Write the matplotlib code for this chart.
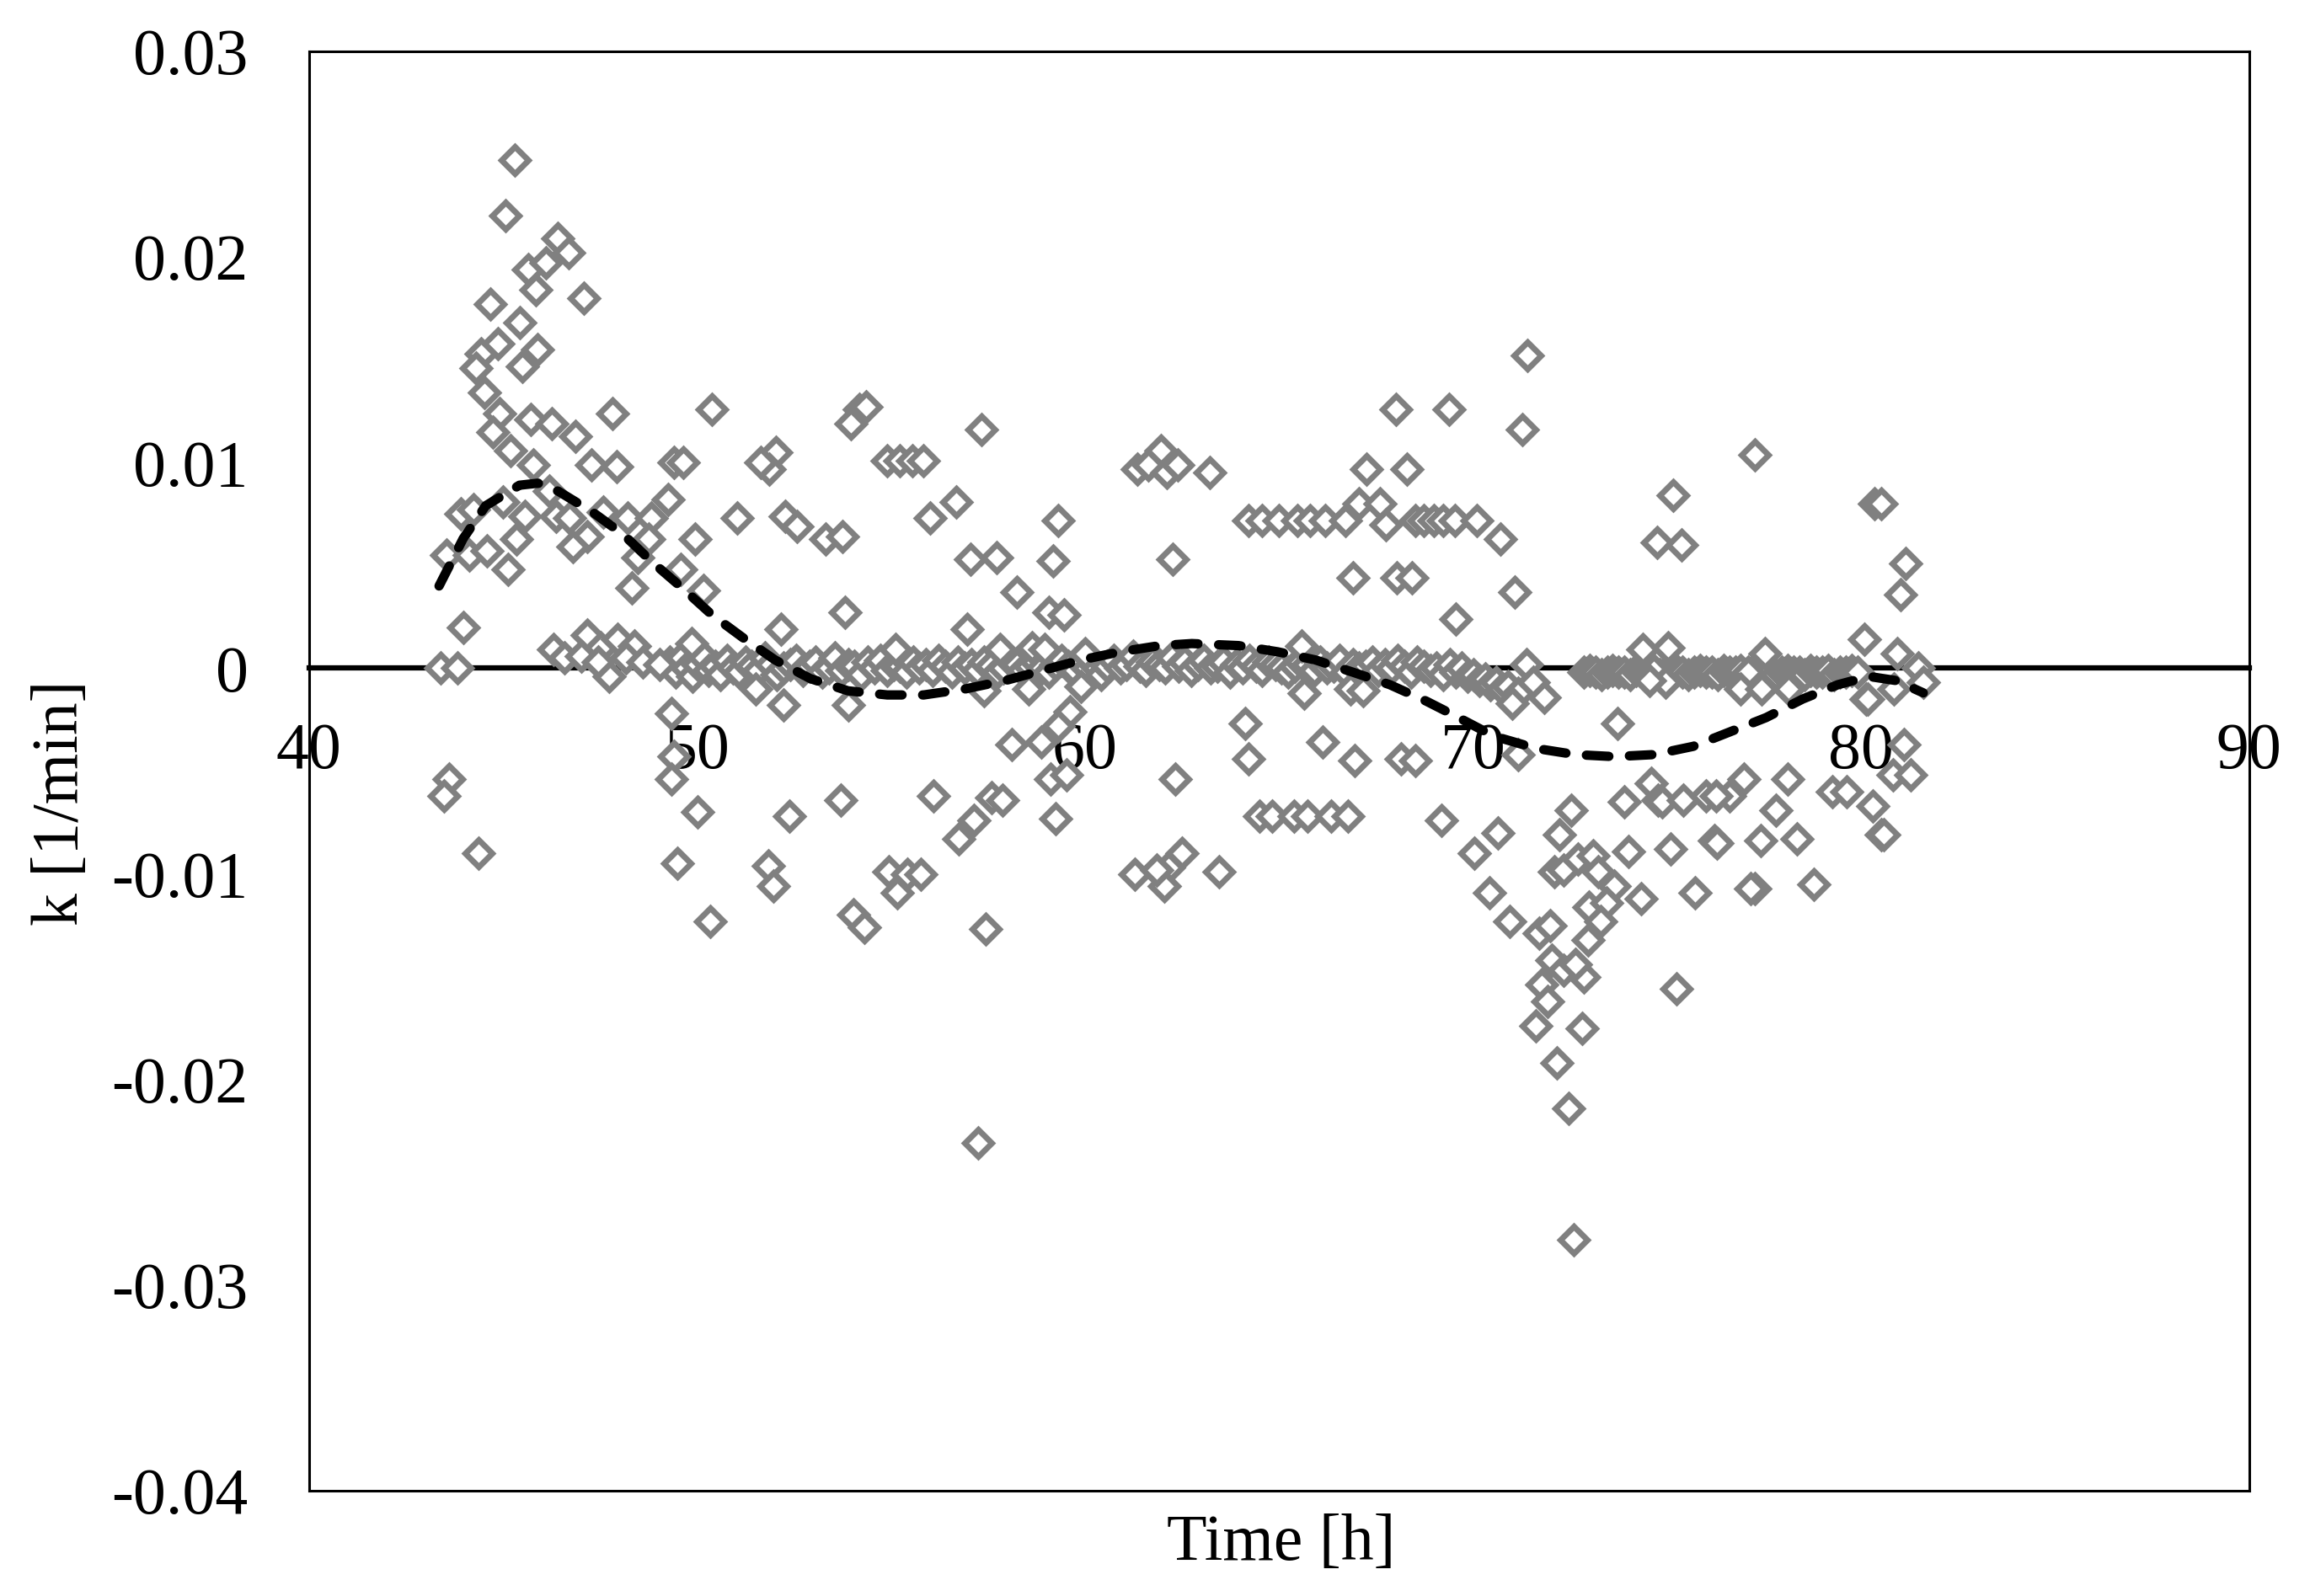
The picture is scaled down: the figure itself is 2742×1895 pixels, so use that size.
import matplotlib
matplotlib.use("Agg")
import matplotlib.pyplot as plt

plt.rcParams['font.family'] = ['Liberation Serif', 'DejaVu Serif']
plt.rcParams['axes.unicode_minus'] = False

# scattered k values [1/min] against time [h]
time_h = [
    45.29, 45.07, 46.40, 46.69, 45.64, 46.11, 45.84, 47.08, 44.66, 45.42,
    44.86, 45.89, 45.49, 44.44, 44.30, 44.52, 44.91, 45.71, 46.25, 46.87,
    47.81, 44.73, 45.20, 45.78, 47.27, 47.92, 43.90, 44.23, 44.99, 45.56,
    46.18, 46.36, 46.72, 47.59, 48.21, 48.82, 49.25, 43.54, 44.12, 44.59,
    45.35, 47.16, 46.79, 45.13, 48.46, 48.75, 48.31, 43.97, 43.39, 43.83,
    46.29, 46.58, 47.16, 47.01, 47.52, 47.95, 48.39, 47.74, 47.45, 48.17,
    48.60, 49.04,
    43.61, 43.47, 44.37,
    50.38, 54.18, 54.36, 53.96, 49.40, 49.65, 52.04, 51.86, 51.64, 54.90,
    55.23, 55.55, 55.84, 51.03, 52.26, 52.58, 53.31, 53.74, 56.00, 49.94,
    49.58, 50.16, 53.81, 52.15, 49.87, 55.12,
    49.33, 51.50, 52.22, 53.89, 49.40, 49.33, 50.02, 52.37, 53.71, 56.10,
    49.50, 51.83, 51.97, 50.34, 54.94, 55.41, 55.77, 55.15, 54.03, 54.32,
    57.33, 56.67, 59.31, 57.04, 57.72, 59.17, 62.25, 61.96, 61.34, 61.63,
    62.10, 62.39, 58.23, 59.06, 59.46, 56.96, 57.80, 58.63, 58.95, 60.00,
    57.40, 59.90,
    58.55, 59.60, 59.31, 58.12, 58.88, 59.10, 59.53, 59.24, 57.58, 57.87,
    57.14, 56.75, 62.32, 61.27, 62.14, 62.50, 62.03, 61.85, 57.43, 57.25,
    68.00, 69.37, 63.22, 67.24, 68.29, 64.20, 64.56, 65.00, 65.47, 65.79,
    66.19, 66.70, 67.06, 67.60, 67.75, 68.50, 68.72, 68.98, 69.23, 69.52,
    66.91, 68.03, 68.43, 69.55, 65.57, 66.84, 67.17,
    65.65, 64.13, 66.12, 66.95, 68.14, 68.51, 64.20, 64.49, 64.81, 65.39,
    65.72, 66.33, 66.77, 69.19, 63.44,
    71.40, 71.27, 75.16, 74.73, 75.38, 70.10, 70.71, 71.08, 71.37, 71.55,
    71.84, 71.00, 74.37, 75.02, 74.66, 74.95, 74.55,
    73.72, 71.15, 70.03, 70.64, 70.42, 70.93, 72.52, 72.23, 72.09, 72.34,
    72.70, 73.10, 73.21, 73.64, 72.99, 73.43, 73.28, 72.96, 71.69, 71.98,
    72.02, 72.34, 72.85, 72.63, 71.76, 71.91, 71.62, 72.81, 72.16, 72.45,
    72.60, 74.01, 74.33, 73.90, 74.58, 74.77, 74.87, 75.42, 75.99, 75.09,
    75.71, 75.24, 76.21,
    77.26, 80.34, 80.52, 81.14, 81.01, 80.09, 77.52, 80.92, 81.46, 81.60,
    80.12, 77.08, 76.90, 77.44, 78.13, 80.85,
    80.16, 81.10, 80.81, 81.28, 76.97, 78.10, 76.61, 76.25, 77.81, 79.25,
    79.62, 80.30, 76.29, 77.41, 78.35, 80.52, 80.59, 77.26, 77.15, 78.78,
]
k_vals = [
    0.0247, 0.0220, 0.0209, 0.0202, 0.0194, 0.0197, 0.0184, 0.0180, 0.0177, 0.0168,
    0.0158, 0.0155, 0.0147, 0.0153, 0.0146, 0.0134, 0.0124, 0.0121, 0.0119, 0.0113,
    0.0124, 0.0115, 0.0106, 0.0099, 0.0099, 0.0098, 0.0075, 0.0077, 0.0081, 0.0074,
    0.0086, 0.0074, 0.0073, 0.0076, 0.0073, 0.0073, 0.0082, 0.0055, 0.0055, 0.0057,
    0.0063, 0.0064, 0.0059, 0.0048, 0.0054, 0.0063, 0.0039, 0.0020, 0.0000, 0.0000,
    0.0009, 0.0005, 0.0016, 0.0006, 0.0010, 0.0014, 0.0011, -0.0004, 0.0003, 0.0005,
    0.0003, 0.0002,
    -0.0054, -0.0062, -0.0090,
    0.0126, 0.0126, 0.0127, 0.0119, 0.0100, 0.0100, 0.0105, 0.0097, 0.0100, 0.0101,
    0.0101, 0.0101, 0.0101, 0.0073, 0.0074, 0.0069, 0.0063, 0.0064, 0.0073, 0.0063,
    0.0048, 0.0038, 0.0027, 0.0019, 0.0012, 0.0009,
    -0.0022, -0.0010, -0.0018, -0.0018, -0.0043, -0.0054, -0.0070, -0.0072, -0.0064, -0.0062,
    -0.0095, -0.0096, -0.0106, -0.0123, -0.0099, -0.0100, -0.0100, -0.0109, -0.0120, -0.0126,
    0.0116, 0.0081, 0.0072, 0.0053, 0.0054, 0.0052, 0.0053, 0.0106, 0.0097, 0.0099,
    0.0095, 0.0099, 0.0037, 0.0027, 0.0026, 0.0019, 0.0009, 0.0010, 0.0009, 0.0007,
    -0.0011, -0.0009,
    -0.0010, -0.0021, -0.0028, -0.0037, -0.0036, -0.0054, -0.0052, -0.0073, -0.0063, -0.0064,
    -0.0074, -0.0083, -0.0054, -0.0100, -0.0097, -0.0090, -0.0106, -0.0098, -0.0127, -0.0231,
    0.0126, 0.0126, 0.0095, 0.0097, 0.0097, 0.0072, 0.0072, 0.0072, 0.0072, 0.0072,
    0.0072, 0.0072, 0.0080, 0.0080, 0.0070, 0.0072, 0.0072, 0.0072, 0.0072, 0.0072,
    0.0044, 0.0044, 0.0044, 0.0024, 0.0011, -0.0010, -0.0011,
    -0.0012, -0.0027, -0.0036, -0.0045, -0.0044, -0.0045, -0.0044, -0.0072, -0.0072, -0.0072,
    -0.0072, -0.0072, -0.0072, -0.0074, -0.0099,
    0.0152, 0.0116, 0.0084, 0.0061, 0.0060, 0.0072, 0.0063, 0.0037, 0.0002, -0.0007,
    -0.0014, -0.0017, 0.0009, 0.0010, -0.0001, -0.0007, -0.0006,
    -0.0027, -0.0042, -0.0090, -0.0080, -0.0109, -0.0123, -0.0069, -0.0081, -0.0099, -0.0098,
    -0.0093, -0.0091, -0.0099, -0.0106, -0.0116, -0.0114, -0.0123, -0.0132, -0.0129, -0.0125,
    -0.0142, -0.0147, -0.0150, -0.0144, -0.0154, -0.0162, -0.0174, -0.0175, -0.0192, -0.0214,
    -0.0278, -0.0089, -0.0112, -0.0065, -0.0056, -0.0064, -0.0065, -0.0064, -0.0062, -0.0088,
    -0.0109, -0.0156, -0.0084,
    0.0104, 0.0080, 0.0080, 0.0051, 0.0036, 0.0014, 0.0007, 0.0007, 0.0000, -0.0007,
    -0.0015, -0.0002, -0.0010, -0.0010, -0.0010, -0.0010,
    -0.0015, -0.0037, -0.0052, -0.0052, -0.0054, -0.0054, -0.0062, -0.0062, -0.0069, -0.0060,
    -0.0060, -0.0067, -0.0085, -0.0084, -0.0083, -0.0081, -0.0081, -0.0107, -0.0107, -0.0105,
]

# dense run of points lying on k ~ 0
band_time_h = [
    49.30, 49.45, 49.60, 49.72, 49.88, 50.02, 50.15, 50.30, 50.46, 50.60,
    50.77, 50.93, 51.08, 51.25, 51.40, 51.58, 51.74, 51.90, 52.06, 52.23,
    52.40, 52.56, 52.73, 52.90, 53.06, 53.22, 53.40, 53.56, 53.73, 53.90,
    54.06, 54.23, 54.40, 54.56, 54.73, 54.90, 55.06, 55.23, 55.40, 55.56,
    55.73, 55.90, 56.06, 56.23, 56.40, 56.56, 56.73, 56.90, 57.06, 57.23,
    57.40, 57.56, 57.73, 57.90, 58.06, 58.23, 58.40, 58.56, 58.73, 58.90,
    59.06, 59.23, 59.40, 59.56, 59.73, 59.90, 60.06, 60.23, 60.40, 60.56,
    60.73, 60.90, 61.06, 61.23, 61.40, 61.56, 61.73, 61.90, 62.06, 62.23,
    62.40, 62.56, 62.73, 62.90, 63.06, 63.23, 63.40, 63.56, 63.73, 63.90,
    64.06, 64.23, 64.40, 64.56, 64.73, 64.90, 65.06, 65.23, 65.40, 65.56,
    65.73, 65.90, 66.06, 66.23, 66.40, 66.56, 66.73, 66.90, 67.06, 67.23,
    67.40, 67.56, 67.73, 67.90, 68.06, 68.23, 68.40, 68.56, 68.73, 68.90,
    69.06, 69.23, 69.40,
    69.55, 69.70, 69.85, 70.00, 70.15, 70.30, 70.45, 70.60, 70.75, 70.90, 71.15,
    72.85, 73.00, 73.15, 73.30, 73.45, 73.60, 73.75, 73.90, 74.05, 74.20,
    74.35, 74.50, 74.65, 74.80, 74.95, 75.10, 75.25, 75.40, 75.55, 75.70,
    75.85, 76.00, 76.15, 76.30, 76.45, 76.60, 76.75, 76.90, 77.05, 77.20,
    77.35, 77.50, 77.65, 77.80, 77.95, 78.10, 78.25, 78.40, 78.55, 78.70,
    78.85, 79.00, 79.15, 79.30, 79.45, 79.60, 79.75, 79.90,
]
band_k = [
    0.0003, -0.0002, 0.0005, 0.0000, -0.0004, 0.0002, 0.0006, -0.0001, 0.0001, -0.0003,
    0.0004, 0.0000, -0.0002, 0.0003, 0.0001, -0.0001, 0.0005, 0.0002, -0.0003, 0.0000,
    0.0002, 0.0004, -0.0001, 0.0001, 0.0003, -0.0002, 0.0000, 0.0005, -0.0001, 0.0002,
    0.0001, -0.0003, 0.0003, 0.0000, 0.0004, -0.0001, 0.0002, 0.0001, -0.0002, 0.0003,
    0.0000, 0.0002, -0.0001, 0.0004, 0.0001, -0.0002, 0.0003, 0.0000, 0.0002, -0.0001,
    0.0003, 0.0001, -0.0002, 0.0000, 0.0004, 0.0002, -0.0001, 0.0001, 0.0003, 0.0000,
    -0.0002, 0.0002, 0.0004, 0.0001, -0.0001, 0.0003, 0.0000, 0.0002, -0.0003, 0.0001,
    0.0004, 0.0000, 0.0002, 0.0006, 0.0001, -0.0001, 0.0003, 0.0002, 0.0000, 0.0005,
    0.0001, 0.0003, -0.0001, 0.0002, 0.0004, 0.0000, 0.0001, 0.0003, -0.0002, 0.0002,
    0.0000, 0.0004, 0.0001, -0.0001, 0.0003, 0.0002, 0.0000, -0.0002, 0.0001, 0.0003,
    0.0002, -0.0001, 0.0003, 0.0000, 0.0001, 0.0004, -0.0002, 0.0002, 0.0000, 0.0001,
    0.0003, -0.0001, 0.0002, 0.0000, 0.0004, 0.0001, -0.0002, 0.0003, 0.0001, -0.0001,
    0.0000, -0.0003, 0.0002,
    -0.0002, 0.0000, -0.0004, -0.0003, -0.0006, -0.0005, -0.0008, -0.0007, -0.0010, -0.0009, -0.0012,
    -0.0002, -0.0001, -0.0002, -0.0003, -0.0002, -0.0001, -0.0002, -0.0002, -0.0003, -0.0001,
    -0.0002, -0.0002, -0.0001, -0.0003, -0.0002, -0.0002, -0.0001, -0.0002, -0.0003, -0.0002,
    -0.0001, -0.0002, -0.0002, -0.0003, -0.0001, -0.0002, -0.0002, -0.0001, -0.0003, -0.0002,
    -0.0002, -0.0001, -0.0002, -0.0003, -0.0002, -0.0001, -0.0002, -0.0002, -0.0003, -0.0001,
    -0.0002, -0.0002, -0.0001, -0.0003, -0.0002, -0.0002, -0.0001, -0.0002,
]

# polynomial trend line
trend_time_h = [
    43.35, 43.97, 44.55, 45.42, 45.90, 46.43, 47.30, 48.10, 48.82, 49.62,
    50.38, 51.17, 52.01, 52.91, 53.89, 54.90, 55.84, 56.93, 57.94, 58.92,
    59.89, 60.91, 61.92, 62.75, 63.95, 64.96, 65.94, 66.91, 67.85, 68.79,
    69.52, 70.53, 71.62, 72.63, 73.64, 74.66, 75.67, 76.61, 77.55, 78.49,
    79.40, 80.20, 80.90, 81.60,
]
trend_k = [
    0.0040, 0.0063, 0.0079, 0.0089, 0.0090, 0.0086, 0.0076, 0.0065, 0.0052, 0.0039,
    0.0026, 0.0015, 0.0004, -0.0005, -0.0011, -0.0013, -0.0013, -0.0010, -0.0006, -0.0001,
    0.0004, 0.0008, 0.0011, 0.0012, 0.0011, 0.0008, 0.0004, -0.0002, -0.0008, -0.0016,
    -0.0023, -0.0033, -0.0039, -0.0042, -0.0043, -0.0042, -0.0038, -0.0031, -0.0024, -0.0015,
    -0.0008, -0.0004, -0.0006, -0.0012,
]

xtick_vals = [40, 50, 60, 70, 80, 90]
ytick_vals = [-0.04, -0.03, -0.02, -0.01, 0, 0.01, 0.02, 0.03]
ytick_labels = ['-0.04', '-0.03', '-0.02', '-0.01', '0', '0.01', '0.02', '0.03']

fig = plt.figure(figsize=(27.42, 18.95), dpi=100)
ax = fig.add_axes([0.1338, 0.0660, 0.8399, 0.9018])

marker_style = dict(linestyle='none', marker='D', markersize=16, markerfacecolor='white',
                    markeredgecolor='#808080', markeredgewidth=5, zorder=3)
ax.plot(band_time_h, band_k, **marker_style)
ax.plot(time_h, k_vals, **marker_style)
ax.plot(trend_time_h, trend_k, color='black', linewidth=8, dashes=(2.4, 2.2),
        dash_capstyle='round', solid_joinstyle='round', zorder=4)

ax.set_xlim(40, 90)
ax.set_ylim(-0.04, 0.03)
ax.set_xticks(xtick_vals)
ax.set_yticks(ytick_vals)
ax.set_yticklabels(ytick_labels)

for side in ['left', 'right', 'top']:
    ax.spines[side].set_linewidth(2.2)
ax.spines['bottom'].set_position(('data', 0))
ax.spines['bottom'].set_linewidth(4.5)
ax.spines['bottom'].set_zorder(1)
# frame line along the bottom of the plot area
ax.plot([0, 1], [0, 0], transform=ax.transAxes, color='black', linewidth=2.2,
        clip_on=False, zorder=5)

ax.tick_params(axis='x', length=0, pad=46, labelsize=56)
ax.tick_params(axis='y', length=0, pad=52, labelsize=56)

fig.text(0.5547, 0.0327, 'Time [h]', ha='center', va='center', fontsize=56)
fig.text(0.0266, 0.497, 'k [1/min]', ha='center', va='center', rotation=90, fontsize=56)

fig.savefig('out.png', dpi=100, facecolor='white')
